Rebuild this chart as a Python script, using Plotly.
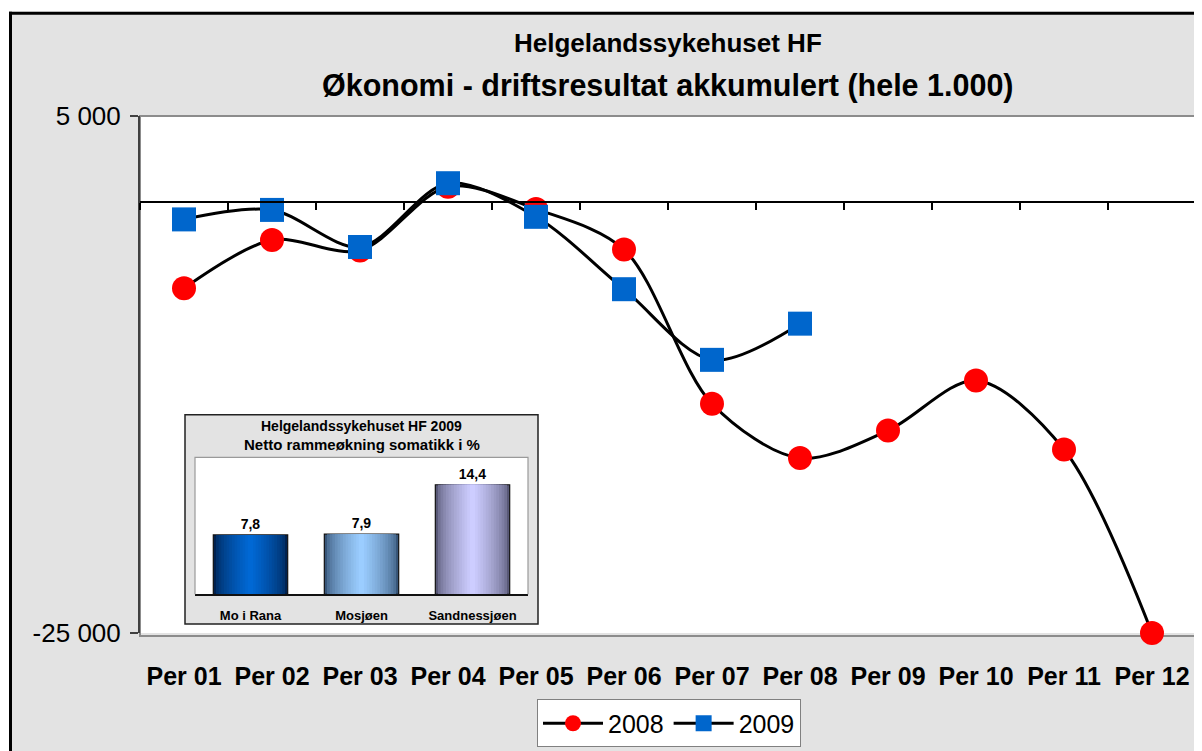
import plotly.graph_objects as go

# ---------------- data ----------------
categories = ["Per 01", "Per 02", "Per 03", "Per 04", "Per 05", "Per 06",
              "Per 07", "Per 08", "Per 09", "Per 10", "Per 11", "Per 12"]
values_2008 = [-5000, -2200, -2800, 900, -400, -2750,
               -11700, -14850, -13250, -10350, -14350, -25000]
values_2009 = [-1000, -450, -2600, 1100, -850, -5050, -9150, -7050]

inset_categories = ["Mo i Rana", "Mosjøen", "Sandnessjøen"]
inset_values = [7.8, 7.9, 14.4]

y_min, y_max = -25000, 5000
y_ticks = [y_min, y_max]
y_ticktext = [f"{v:,}".replace(",", " ") for v in y_ticks]

# ---------------- geometry helpers (screen px -> paper) ----------------
W, H = 1202, 751
OFF = 8  # page body margin
TOP, BOT = 116, 637  # screen y of plot top / bottom
ML, MT = 140 - OFF, TOP - OFF
MR = W - (1196 - OFF)
MB = H - (BOT - OFF)
PW, PH = W - ML - MR, H - MT - MB


def px(x):
    return (x - OFF - ML) / PW


def py(y):
    return (BOT - y) / (BOT - TOP)


FONT = "Liberation Sans, Arial, sans-serif"
GREY_BG = "#e3e3e3"

fig = go.Figure()

fig.add_trace(go.Scatter(
    x=categories, y=values_2008, name="2008", mode="lines+markers",
    line=dict(color="black", width=3, shape="spline", smoothing=0.9),
    marker=dict(symbol="circle", size=24, color="#ff0000"),
    cliponaxis=False, xaxis="x", yaxis="y",
))
fig.add_trace(go.Scatter(
    x=categories[:len(values_2009)], y=values_2009, name="2009", mode="lines+markers",
    line=dict(color="black", width=3, shape="spline", smoothing=0.9),
    marker=dict(symbol="square", size=24, color="#0066cc"),
    cliponaxis=False, xaxis="x3", yaxis="y",
))

# ---------------- inset gradient bars ----------------
edge_cols = [(0, 34, 80), (55, 85, 120), (88, 88, 118)]
center_cols = [(0, 104, 212), (155, 205, 255), (205, 205, 255)]
N = 14
full_w = 0.67
for k in range(N):
    t = k / (N - 1)
    w = full_w * (1 - k / N)
    cols = []
    for e, c in zip(edge_cols, center_cols):
        tt = t ** 0.6
        rgb = tuple(int(round(e[i] + (c[i] - e[i]) * tt)) for i in range(3))
        cols.append("rgb(%d,%d,%d)" % rgb)
    outer = (k == 0)
    fig.add_trace(go.Bar(
        x=inset_categories, y=inset_values, width=w,
        marker=dict(color=cols, line=dict(color="#111111", width=1.2 if outer else 0)),
        texttemplate="%{y:.1f}" if outer else None,
        textposition="outside" if outer else "none",
        textfont=dict(family=FONT, size=14, color="black", weight="bold"),
        cliponaxis=False, showlegend=False, hoverinfo="skip",
        xaxis="x2", yaxis="y2",
    ))

zero_pos = (0 - y_min) / (y_max - y_min)

shapes = [
    # plot-area border
    dict(type="rect", xref="paper", yref="paper", x0=0, x1=1, y0=py(640), y1=1,
         line=dict(color="#8c8c8c", width=2), fillcolor="rgba(0,0,0,0)", layer="below"),
    # inset box
    dict(type="rect", xref="paper", yref="paper", x0=px(185), x1=px(538), y0=py(628), y1=py(417),
         line=dict(color="#222222", width=1.5), fillcolor=GREY_BG, layer="below"),
    # inset inner frame (top/left/right)
    dict(type="path", xref="paper", yref="paper",
         path="M %f,%f L %f,%f L %f,%f L %f,%f" % (px(195), py(598), px(195), py(460),
                                                  px(528), py(460), px(528), py(598)),
         line=dict(color="#9a9a9a", width=1.2), layer="above"),
    # white margins of page
    dict(type="rect", xref="paper", yref="paper", x0=px(0), x1=px(1220), y0=py(11), y1=py(-20),
         line=dict(width=0), fillcolor="white", layer="above"),
    dict(type="rect", xref="paper", yref="paper", x0=px(0), x1=px(9), y0=py(800), y1=py(-20),
         line=dict(width=0), fillcolor="white", layer="above"),
    # outer chart border
    dict(type="line", xref="paper", yref="paper", x0=px(9), x1=px(1220), y0=py(12.5), y1=py(12.5),
         line=dict(color="black", width=3), layer="above"),
    dict(type="line", xref="paper", yref="paper", x0=px(10.5), x1=px(10.5), y0=py(11), y1=py(800),
         line=dict(color="black", width=3), layer="above"),
]

annotations = [
    dict(text="Helgelandssykehuset HF", xref="paper", yref="paper", x=0.5, y=py(42),
         xanchor="center", yanchor="middle", showarrow=False,
         font=dict(family=FONT, size=26, color="black", weight="bold")),
    dict(text="Økonomi - driftsresultat akkumulert (hele 1.000)", xref="paper", yref="paper",
         x=0.5, y=py(85), xanchor="center", yanchor="middle", showarrow=False,
         font=dict(family=FONT, size=30.5, color="black", weight="bold")),
    dict(text="Helgelandssykehuset HF 2009", xref="paper", yref="paper", x=px(361.5), y=py(428),
         xanchor="center", yanchor="middle", showarrow=False,
         font=dict(family=FONT, size=14, color="black", weight="bold")),
    dict(text="Netto rammeøkning somatikk i %", xref="paper", yref="paper", x=px(361.5), y=py(447),
         xanchor="center", yanchor="middle", showarrow=False,
         font=dict(family=FONT, size=15, color="black", weight="bold")),
]

fig.update_layout(
    width=W, height=H,
    margin=dict(l=ML, r=MR, t=MT, b=MB, pad=0),
    paper_bgcolor=GREY_BG, plot_bgcolor="white",
    separators=", ",
    barmode="overlay",
    font=dict(family=FONT, color="black"),
    showlegend=True,
    legend=dict(orientation="h", x=px(669), y=py(704), xanchor="center", yanchor="top",
                bgcolor="white", bordercolor="#808080", borderwidth=1,
                font=dict(family=FONT, size=25, color="black"),
                itemwidth=60, traceorder="normal"),
    xaxis=dict(type="category", categoryorder="array", categoryarray=categories,
               range=[-0.5, len(categories) - 0.5], showline=False, showgrid=False,
               zeroline=False, ticks="", ticklabelstandoff=26,
               tickfont=dict(family=FONT, size=25, color="black", weight="bold"),
               fixedrange=True),
    xaxis3=dict(type="category", categoryorder="array", categoryarray=categories,
                range=[-0.5, len(categories) - 0.5], overlaying="x", anchor="free",
                position=zero_pos, side="bottom", showticklabels=False,
                ticks="outside", tickson="boundaries", ticklen=7, tickwidth=2,
                tickcolor="black", showline=True, linecolor="black", linewidth=2,
                showgrid=False, zeroline=False),
    yaxis=dict(range=[y_min, y_max], tickmode="array", tickvals=y_ticks, ticktext=y_ticktext,
               ticks="outside", ticklen=8, tickwidth=2, tickcolor="#404040",
               showline=True, linecolor="#404040", linewidth=2, showgrid=False,
               zeroline=False, ticklabelstandoff=4,
               tickfont=dict(family=FONT, size=26, color="black")),
    xaxis2=dict(domain=[px(195), px(528)], anchor="y2", type="category",
                showline=True, linecolor="#111111", linewidth=1.5, ticks="",
                ticklabelstandoff=8, showgrid=False,
                tickfont=dict(family=FONT, size=13, color="black", weight="bold")),
    yaxis2=dict(domain=[py(598), py(460)], anchor="x2", range=[0, 18], visible=False),
    shapes=shapes,
    annotations=annotations,
)

fig.write_html("out.html")
